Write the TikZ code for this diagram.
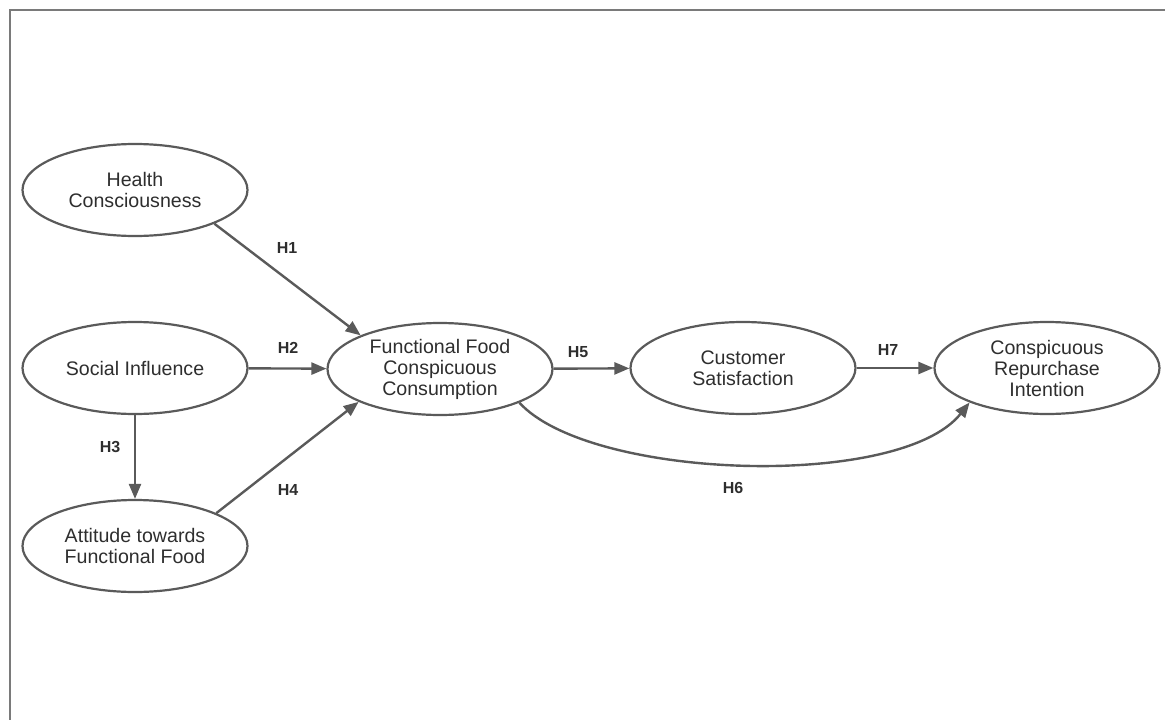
\documentclass[tikz,border=0pt]{standalone}
\usepackage{fontspec}
\setmainfont{Liberation Sans}
\usetikzlibrary{shapes.geometric,arrows.meta}
\definecolor{linegray}{HTML}{5A5A5A}
\definecolor{textgray}{HTML}{2E2E2E}
\definecolor{framegray}{HTML}{7A7A7A}
\begin{document}
\begin{tikzpicture}[x=1pt,y=-1pt,
  construct/.style={ellipse,draw=linegray,line width=2.2pt,minimum width=225pt,minimum height=92pt,inner sep=0pt,
    align=center,text=textgray,font=\fontsize{19.6}{21}\selectfont},
  path/.style={draw=linegray,line width=2.4pt,-{Triangle[length=15pt,width=12pt]}},
  hlabel/.style={text=textgray,font=\fontsize{16}{18}\selectfont\bfseries,inner sep=0pt}]
\useasboundingbox (0,0) rectangle (1165,720);
\draw[framegray,line width=2pt] (9.5,720) -- (9.5,9.5) -- (1165,9.5);

\node[construct] (hc) at (135,190) {Health\\Consciousness};
\node[construct] (si) at (135,368) {Social Influence};
\node[construct] (att) at (135,546) {Attitude towards\\Functional Food};
\node[construct] (ffcc) at (440,369) {Functional Food\\Conspicuous\\Consumption};
\node[construct] (cs) at (743,368) {Customer\\Satisfaction};
\node[construct] (cri) at (1047,368) {Conspicuous\\Repurchase\\Intention};

\draw[path] (hc.-23) -- (ffcc.157);
\draw[path] (si) -- (ffcc);
\draw[path] (si) -- (att);
\draw[path] (att.22) -- (ffcc.202);
\draw[path] (ffcc) -- (cs);
\draw[path] (cs) -- (cri);
\draw[path] (ffcc.-23) .. controls (590,480) and (900,490) .. (cri.204);

\node[hlabel] (h1) at (287,248) {H1};
\node[hlabel] (h2) at (288,348) {H2};
\node[hlabel] (h3) at (110,447) {H3};
\node[hlabel] (h4) at (288,490) {H4};
\node[hlabel] (h5) at (578,352) {H5};
\node[hlabel] (h7) at (888,350) {H7};
\node[hlabel] (h6) at (733,488) {H6};
\end{tikzpicture}
\end{document}
